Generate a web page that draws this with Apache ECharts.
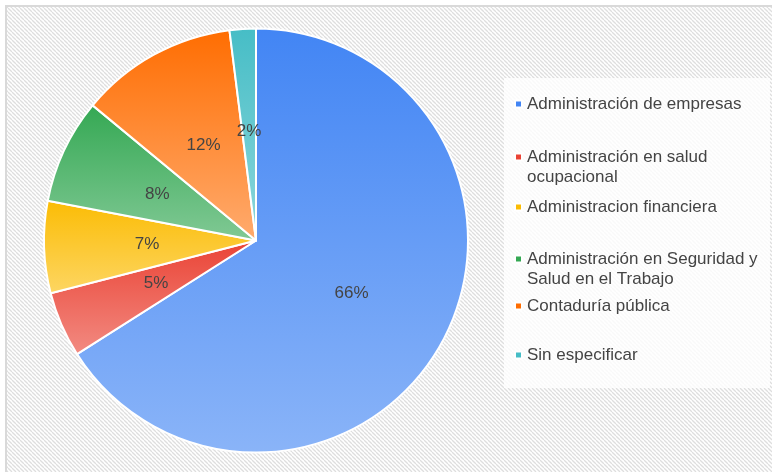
<!DOCTYPE html>
<html>
<head>
<meta charset="utf-8">
<script src="https://cdn.jsdelivr.net/npm/echarts@6/dist/echarts.min.js"></script>
<style>
html,body{margin:0;padding:0;background:#fff;}
#c{width:772px;height:472px;}
</style>
</head>
<body>
<div id="c"></div>
<script>
var categories = [
  'Administración de empresas',
  'Administración en salud ocupacional',
  'Administracion financiera',
  'Administración en Seguridad y Salud en el Trabajo',
  'Contaduría pública',
  'Sin especificar'
];
var legendLabels = [
  'Administración de empresas',
  'Administración en salud\nocupacional',
  'Administracion financiera',
  'Administración en Seguridad y\nSalud en el Trabajo',
  'Contaduría pública',
  'Sin especificar'
];
var values = [66, 5, 7, 8, 12, 2];
var topColors = ['#4285F4', '#EA4335', '#FBBC04', '#34A853', '#FF6D01', '#46BDC6'];
var bottomColors = ['#8AB4F8', '#F28B82', '#FDD663', '#81C995', '#FFAB6E', '#8CD7DB'];

// hatch pattern
var pc = document.createElement('canvas');
pc.width = 4; pc.height = 4;
var g = pc.getContext('2d');
g.fillStyle = '#ffffff';
g.fillRect(0, 0, 4, 4);
g.strokeStyle = '#dedede';
g.lineWidth = 1.3;
for (var k = -1; k <= 1; k++) {
  g.beginPath();
  g.moveTo(k * 4, 0);
  g.lineTo(k * 4 + 4, 4);
  g.stroke();
}

var data = categories.map(function (name, i) {
  return {
    name: name,
    value: values[i],
    itemStyle: {
      color: {
        type: 'linear', x: 0, y: 0, x2: 0, y2: 1,
        colorStops: [{offset: 0, color: topColors[i]}, {offset: 1, color: bottomColors[i]}]
      }
    }
  };
});

var firstLineCenters = [104, 157, 207, 259, 306, 355];
var legends = categories.map(function (name, i) {
  var twoLine = legendLabels[i].indexOf('\n') >= 0;
  return {
    data: [{name: name, itemStyle: {color: topColors[i]}}],
    orient: 'vertical',
    left: 514,
    top: firstLineCenters[i] - (twoLine ? 30 : 10),
    padding: 0,
    icon: 'rect',
    itemWidth: 7,
    itemHeight: 7,
    selectedMode: false,
    formatter: function () { return twoLine ? ' \n' + legendLabels[i] : legendLabels[i]; },
    textStyle: {
      fontFamily: 'Liberation Sans, Arial, sans-serif',
      fontSize: 17,
      color: '#444444',
      lineHeight: 20
    }
  };
});

var chart = echarts.init(document.getElementById('c'), null, {renderer: 'canvas'});
chart.setOption({
  animation: false,
  backgroundColor: '#ffffff',
  graphic: [
    {
      type: 'rect', z: -10, silent: true,
      shape: {x: 6, y: 6, width: 800, height: 500},
      style: {fill: {image: pc, repeat: 'repeat'}, stroke: '#d9d9d9', lineWidth: 2}
    },
    {
      type: 'rect', z: -9, silent: true,
      shape: {x: 504, y: 78, width: 266, height: 310},
      style: {fill: 'rgba(255,255,255,0.8)'}
    }
  ],
  legend: legends,
  series: [{
    type: 'pie',
    center: [256, 240.5],
    radius: 212,
    startAngle: 90,
    clockwise: true,
    percentPrecision: 0,
    itemStyle: {borderColor: '#ffffff', borderWidth: 2},
    label: {
      show: true,
      position: 'inside',
      formatter: '{d}%',
      fontFamily: 'Liberation Sans, Arial, sans-serif',
      fontSize: 17,
      color: '#444444'
    },
    labelLine: {show: false},
    emphasis: {disabled: true},
    data: data
  }]
});
</script>
</body>
</html>
